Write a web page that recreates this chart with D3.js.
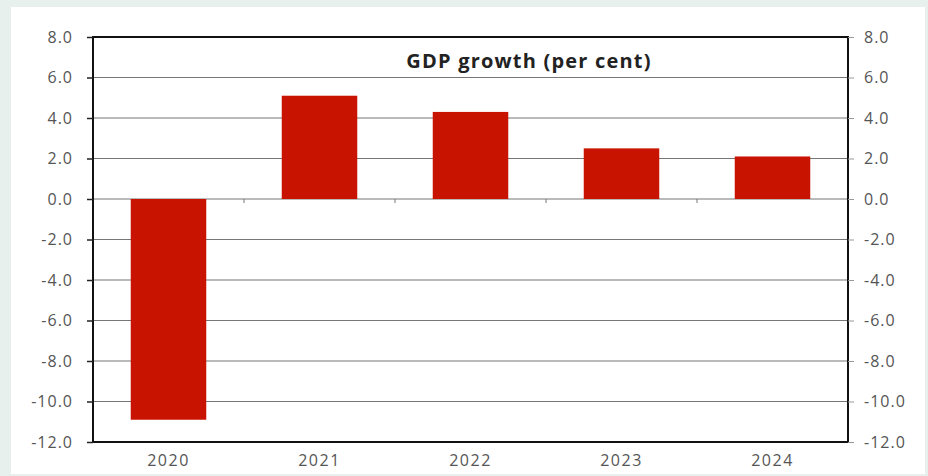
<!DOCTYPE html>
<html lang="en">
<head>
    <meta charset="UTF-8">
    <title>GDP growth (per cent)</title>
    <script src="https://d3js.org/d3.v7.min.js"></script>
    <style>
        body { margin: 0; background: #e8f0ee; }
    </style>
</head>
<body>
    <div id="chart"></div>
    <script>
        const years = ["2020", "2021", "2022", "2023", "2024"];
        const growth = [-10.9, 5.1, 4.3, 2.5, 2.1];
        const yTicks = [-12, -10, -8, -6, -4, -2, 0, 2, 4, 6, 8];

        const width = 928, height = 476;
        const plot = { left: 93, right: 848, top: 37, bottom: 442 };
        const font = "'Open Sans', sans-serif";

        const svg = d3.select("#chart")
                      .append("svg")
                      .attr("width", width)
                      .attr("height", height);

        // white panel
        svg.append("rect")
           .attr("x", 11).attr("y", 7)
           .attr("width", 914).attr("height", 467)
           .attr("fill", "#fff");

        const x = d3.scaleBand()
                    .domain(years)
                    .range([plot.left, plot.right])
                    .paddingInner(0.5)
                    .paddingOuter(0.25);

        const y = d3.scaleLinear()
                    .domain([-12, 8])
                    .range([plot.bottom, plot.top]);

        // gridlines
        svg.append("g")
           .selectAll("line")
           .data(yTicks.filter(d => d > -12 && d < 8))
           .join("line")
           .attr("x1", plot.left).attr("x2", plot.right)
           .attr("y1", d => y(d)).attr("y2", d => y(d))
           .attr("stroke", "#777")
           .attr("stroke-width", 1.2);

        // bars
        svg.append("g")
           .selectAll("rect")
           .data(years)
           .join("rect")
           .attr("x", d => x(d))
           .attr("width", x.bandwidth())
           .attr("y", (d, i) => y(Math.max(0, growth[i])))
           .attr("height", (d, i) => Math.abs(y(growth[i]) - y(0)))
           .attr("fill", "#c81300");

        // small category separator ticks on zero line
        const step = x.step();
        svg.append("g")
           .selectAll("line")
           .data(years.slice(1))
           .join("line")
           .attr("x1", d => x(d) - step * 0.25).attr("x2", d => x(d) - step * 0.25)
           .attr("y1", y(0)).attr("y2", y(0) + 4)
           .attr("stroke", "#777")
           .attr("stroke-width", 1);

        // frame
        svg.append("rect")
           .attr("x", plot.left).attr("y", plot.top)
           .attr("width", plot.right - plot.left)
           .attr("height", plot.bottom - plot.top)
           .attr("fill", "none")
           .attr("stroke", "#111")
           .attr("stroke-width", 2);

        // hyphen minus, like the original
        const fmt = d => d.toFixed(1);

        const yLeft = svg.append("g")
           .attr("transform", `translate(${plot.left},0)`)
           .call(d3.axisLeft(y).tickValues(yTicks).tickFormat(fmt).tickSize(6).tickPadding(14));
        const yRight = svg.append("g")
           .attr("transform", `translate(${plot.right},0)`)
           .call(d3.axisRight(y).tickValues(yTicks).tickFormat(fmt).tickSize(6).tickPadding(10));

        [yLeft, yRight].forEach(g => {
            g.select(".domain").remove();
            g.selectAll(".tick line").attr("stroke", "#222").attr("stroke-width", 1.5);
            g.selectAll("text")
             .attr("font-family", font)
             .attr("font-size", "16px")
             .attr("letter-spacing", "1px")
             .attr("fill", "#555");
        });
        yRight.selectAll(".tick line").attr("stroke", "#999").attr("stroke-width", 1);

        const xAxis = svg.append("g")
           .attr("transform", `translate(0,${plot.bottom})`)
           .call(d3.axisBottom(x).tickSize(0).tickPadding(13));
        xAxis.select(".domain").remove();
        xAxis.selectAll("text")
             .attr("font-family", font)
             .attr("font-size", "16px")
             .attr("letter-spacing", "1.5px")
             .attr("fill", "#555");

        svg.append("text")
           .attr("x", 529)
           .attr("y", 68)
           .attr("text-anchor", "middle")
           .attr("font-family", font)
           .attr("font-size", "20px")
           .attr("font-weight", "bold")
           .attr("letter-spacing", "1.2px")
           .attr("fill", "#222")
           .text("GDP growth (per cent)");
    </script>
</body>
</html>
